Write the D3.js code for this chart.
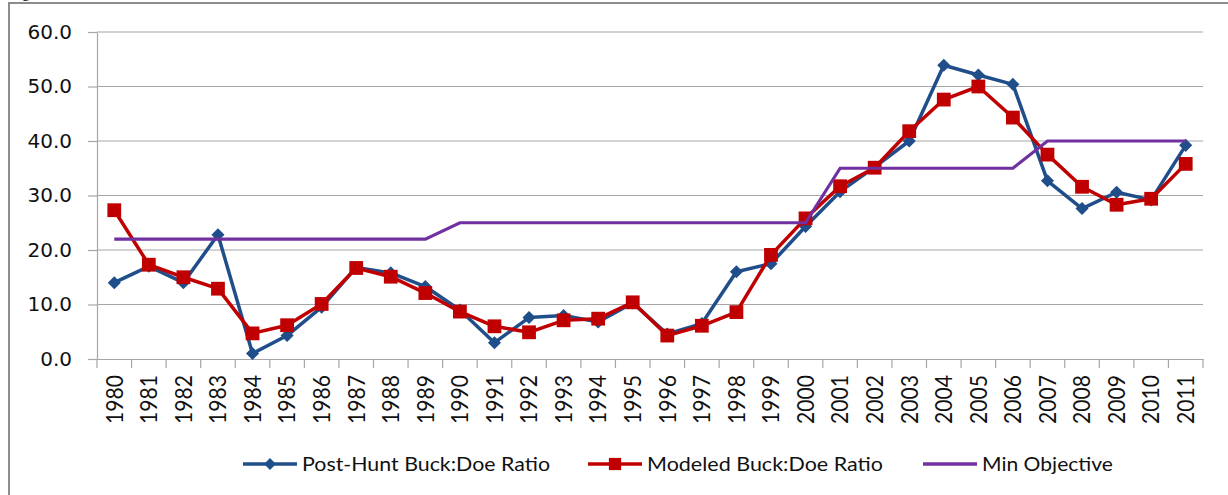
<!DOCTYPE html>
<html>
<head>
<meta charset="utf-8">
<script src="https://cdn.jsdelivr.net/npm/d3@7.9.0/dist/d3.min.js"></script>
<style>
  body { margin: 0; background: #fff; }
  svg { display: block; }
</style>
</head>
<body>
<div id="chart"></div>
<script>
const years = d3.range(1980, 2012).map(String);

const postHunt = [14.0, 17.0, 14.0, 22.8, 1.0, 4.3, 9.5, 16.8, 15.8, 13.3,
  9.0, 3.0, 7.6, 8.0, 6.8, 10.3, 4.6, 6.5, 16.0, 17.5,
  24.3, 30.7, 35.2, 40.0, 53.9, 52.1, 50.4, 32.7, 27.6, 30.6, 29.2, 39.2];

const modeled = [27.3, 17.3, 15.0, 12.9, 4.7, 6.2, 10.1, 16.7, 15.1, 12.1,
  8.7, 6.0, 4.9, 7.1, 7.4, 10.4, 4.3, 6.1, 8.6, 19.1,
  25.8, 31.7, 35.1, 41.8, 47.6, 50.0, 44.3, 37.5, 31.6, 28.3, 29.4, 35.8];

const minObjective = [22, 22, 22, 22, 22, 22, 22, 22, 22, 22,
  25, 25, 25, 25, 25, 25, 25, 25, 25, 25,
  25, 35, 35, 35, 35, 35, 35, 40, 40, 40, 40, 40];

const yTicks = [0, 10, 20, 30, 40, 50, 60];

const seriesNames = ['Post-Hunt Buck:Doe Ratio', 'Modeled Buck:Doe Ratio', 'Min Objective'];

const width = 1228;
const height = 495;
const plot = { left: 97, right: 1203, top: 32, bottom: 359 };

const colors = { blue: '#1f4e8a', red: '#c00000', purple: '#7030a0', grid: '#a6a6a6' };

const svg = d3.select('#chart')
  .append('svg')
  .attr('width', width)
  .attr('height', height);

// outer frame of the embedded chart
svg.append('rect')
  .attr('x', 9).attr('y', 3)
  .attr('width', 1400).attr('height', 700)
  .attr('fill', 'none')
  .attr('stroke', '#8c8c8c')
  .attr('stroke-width', 2);

// bit of caption text cut off above the frame
svg.append('text')
  .attr('x', 22).attr('y', -3)
  .attr('font-family', 'Liberation Serif')
  .attr('font-size', 16)
  .text('g');

const x = d3.scaleBand().domain(years).range([plot.left, plot.right]);
const y = d3.scaleLinear().domain([0, 60]).range([plot.bottom, plot.top]);
const cx = (i) => x(years[i]) + x.bandwidth() / 2;

// gridlines
svg.append('g')
  .selectAll('line')
  .data(yTicks.filter((d) => d > 0))
  .join('line')
  .attr('x1', plot.left).attr('x2', plot.right)
  .attr('y1', (d) => y(d)).attr('y2', (d) => y(d))
  .attr('stroke', colors.grid)
  .attr('stroke-width', 1.2);

// y axis
const yAxis = d3.axisLeft(y)
  .tickValues(yTicks)
  .tickFormat(d3.format('.1f'))
  .tickSize(9)
  .tickSizeOuter(0)
  .tickPadding(16);

const gy = svg.append('g')
  .attr('transform', `translate(${plot.left},0)`)
  .call(yAxis);
gy.selectAll('path, line').attr('stroke', colors.grid).attr('stroke-width', 1.2);
gy.selectAll('text')
  .attr('font-family', 'DejaVu Sans')
  .attr('font-size', 20)
  .attr('fill', '#111');

// x axis: labels at category centers
const xAxis = d3.axisBottom(x).tickSize(0).tickSizeOuter(0);
const gx = svg.append('g')
  .attr('transform', `translate(0,${plot.bottom})`)
  .call(xAxis);
gx.select('.domain').attr('stroke', colors.grid).attr('stroke-width', 1.2);
gx.selectAll('.tick text')
  .attr('transform', 'translate(0,16) rotate(-90)')
  .attr('text-anchor', 'end')
  .attr('x', 0).attr('y', 0)
  .attr('dy', '0.36em')
  .attr('font-family', 'Lato')
  .attr('font-size', 23)
  .attr('textLength', 49)
  .attr('lengthAdjust', 'spacingAndGlyphs')
  .attr('fill', '#111');

// x tick marks between categories
svg.append('g')
  .selectAll('line')
  .data(years.map((d) => x(d)).concat([plot.right]))
  .join('line')
  .attr('x1', (d) => d).attr('x2', (d) => d)
  .attr('y1', plot.bottom).attr('y2', plot.bottom + 9)
  .attr('stroke', colors.grid)
  .attr('stroke-width', 1.2);

const line = d3.line().x((d, i) => cx(i)).y((d) => y(d));

svg.append('path')
  .datum(postHunt)
  .attr('d', line)
  .attr('fill', 'none')
  .attr('stroke', colors.blue)
  .attr('stroke-width', 3.5)
  .attr('stroke-linejoin', 'round');

svg.append('g')
  .selectAll('path')
  .data(postHunt)
  .join('path')
  .attr('d', d3.symbol(d3.symbolSquare, 85))
  .attr('transform', (d, i) => `translate(${cx(i)},${y(d)}) rotate(45)`)
  .attr('fill', colors.blue);

svg.append('path')
  .datum(modeled)
  .attr('d', line)
  .attr('fill', 'none')
  .attr('stroke', colors.red)
  .attr('stroke-width', 3.5)
  .attr('stroke-linejoin', 'round');

svg.append('g')
  .selectAll('path')
  .data(modeled)
  .join('path')
  .attr('d', d3.symbol(d3.symbolSquare, 190))
  .attr('transform', (d, i) => `translate(${cx(i)},${y(d)})`)
  .attr('fill', colors.red);

svg.append('path')
  .datum(minObjective)
  .attr('d', line)
  .attr('fill', 'none')
  .attr('stroke', colors.purple)
  .attr('stroke-width', 3.2);

// legend
const legendItems = [
  { name: seriesNames[0], color: colors.blue, x: 243, marker: 'diamond', textW: 248 },
  { name: seriesNames[1], color: colors.red, x: 588, marker: 'square', textW: 236 },
  { name: seriesNames[2], color: colors.purple, x: 923, marker: null, textW: 131 },
];
const legendY = 464;

const lg = svg.append('g')
  .selectAll('g')
  .data(legendItems)
  .join('g')
  .attr('transform', (d) => `translate(${d.x},${legendY})`);

lg.append('line')
  .attr('x1', 0).attr('x2', 54)
  .attr('stroke', (d) => d.color)
  .attr('stroke-width', 3.5);

lg.filter((d) => d.marker === 'diamond')
  .append('path')
  .attr('d', d3.symbol(d3.symbolSquare, 70))
  .attr('transform', 'translate(27,0) rotate(45)')
  .attr('fill', (d) => d.color);

lg.filter((d) => d.marker === 'square')
  .append('path')
  .attr('d', d3.symbol(d3.symbolSquare, 150))
  .attr('transform', 'translate(27,0)')
  .attr('fill', (d) => d.color);

lg.append('text')
  .attr('x', 59)
  .attr('y', 7)
  .attr('font-family', 'Lato')
  .attr('font-size', 20)
  .attr('textLength', (d) => d.textW)
  .attr('lengthAdjust', 'spacingAndGlyphs')
  .attr('fill', '#111')
  .text((d) => d.name);
</script>
</body>
</html>
